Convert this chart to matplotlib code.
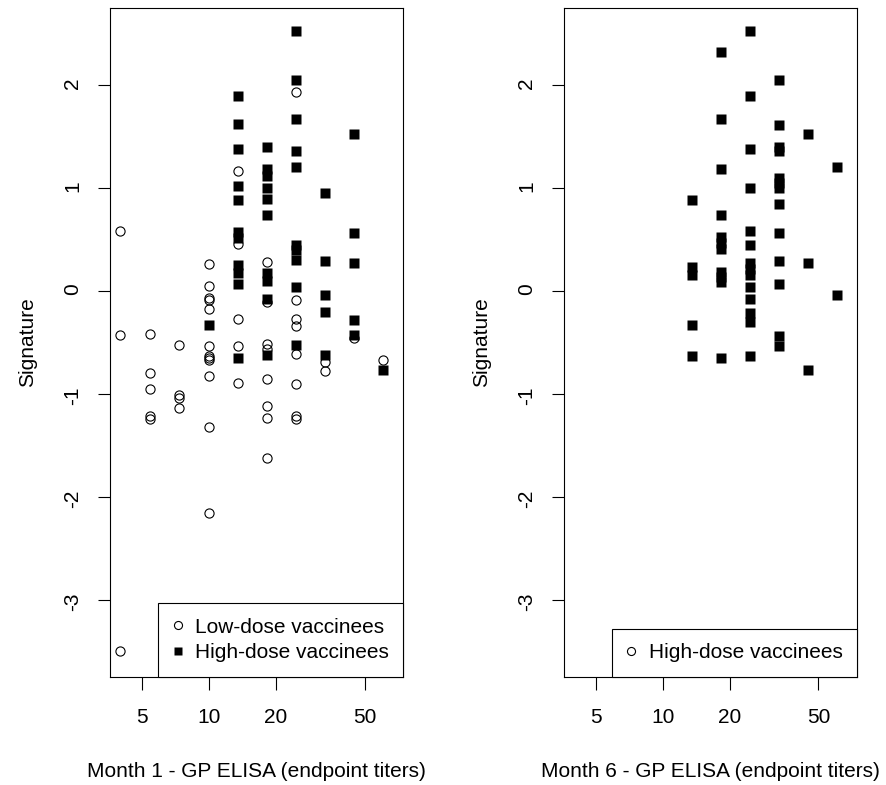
"""
Signature score vs GP ELISA endpoint titers, month 1 and month 6 panels.
"""

import matplotlib
matplotlib.use("Agg")
import matplotlib.pyplot as plt
from matplotlib.lines import Line2D
from matplotlib.ticker import FixedLocator, FixedFormatter, NullLocator

plt.rcParams["font.family"] = ["Liberation Sans", "DejaVu Sans"]

# titer levels (endpoint titers, log spaced)
titers = [4.0, 5.45, 7.35, 10.0, 13.5, 18.2, 24.7, 33.2, 44.7, 60.5]

# month 1 - low-dose vaccinees (open circles)
m1_low_x = ([4.0] * 3 + [5.45] * 5 + [7.35] * 4 + [10.0] * 12 + [13.5] * 5
            + [18.2] * 8 + [24.7] * 8 + [33.2] * 2 + [44.7] + [60.5])
m1_low_y = [0.58, -0.43, -3.50,
            -0.42, -0.80, -0.95, -1.21, -1.24,
            -0.52, -1.01, -1.04, -1.14,
            0.26, 0.05, -0.07, -0.09, -0.17, -0.53, -0.63, -0.65, -0.67, -0.83, -1.32, -2.16,
            1.17, 0.46, -0.27, -0.53, -0.89,
            0.28, -0.11, -0.51, -0.56, -0.85, -1.12, -1.23, -1.62,
            1.93, -0.09, -0.27, -0.34, -0.61, -0.90, -1.21, -1.24,
            -0.69, -0.78,
            -0.46,
            -0.67]

# month 1 - high-dose vaccinees (filled squares)
m1_high_x = ([10.0] + [13.5] * 11 + [18.2] * 10 + [24.7] * 10 + [33.2] * 5
             + [44.7] * 5 + [60.5])
m1_high_y = [-0.33,
             1.89, 1.62, 1.38, 1.02, 0.88, 0.57, 0.51, 0.25, 0.17, 0.07, -0.65,
             1.40, 1.18, 1.12, 1.00, 0.89, 0.74, 0.17, 0.10, -0.08, -0.62,
             2.52, 2.05, 1.67, 1.36, 1.20, 0.45, 0.40, 0.30, 0.04, -0.52,
             0.95, 0.29, -0.04, -0.20, -0.62,
             1.52, 0.56, 0.27, -0.28, -0.43,
             -0.77]

# month 6 - high-dose vaccinees (filled squares)
m6_high_x = ([13.5] * 5 + [18.2] * 11 + [24.7] * 14 + [33.2] * 13
             + [44.7] * 3 + [60.5] * 2)
m6_high_y = [0.88, 0.23, 0.16, -0.33, -0.63,
             2.32, 1.67, 1.18, 0.74, 0.52, 0.47, 0.41, 0.18, 0.14, 0.09, -0.65,
             2.52, 1.89, 1.38, 1.00, 0.58, 0.45, 0.27, 0.21, 0.16, 0.04, -0.08, -0.21, -0.30, -0.63,
             2.05, 1.61, 1.40, 1.36, 1.10, 1.05, 1.00, 0.84, 0.56, 0.29, 0.07, -0.44, -0.53,
             1.52, 0.27, -0.77,
             1.20, -0.04]

x_ticks = [5, 10, 20, 50]
y_ticks = [-3, -2, -1, 0, 1, 2]
x_labels = ["Month 1 - GP ELISA (endpoint titers)", "Month 6 - GP ELISA (endpoint titers)"]

FS = 15
MS_CIRC = 6.6
MS_SQ = 6.9


def style_axes(ax, xlabel):
    ax.set_xscale("log")
    ax.set_xlim(3.59, 74.6)
    ax.set_ylim(-3.748, 2.748)
    ax.xaxis.set_major_locator(FixedLocator(x_ticks))
    ax.xaxis.set_major_formatter(FixedFormatter([str(t) for t in x_ticks]))
    ax.xaxis.set_minor_locator(NullLocator())
    ax.set_yticks(y_ticks)
    ax.set_yticklabels([str(t) for t in y_ticks])
    ax.tick_params(axis="both", length=9, width=0.8, labelsize=FS, direction="out")
    ax.tick_params(axis="x", pad=13)
    ax.tick_params(axis="y", pad=11, labelrotation=90)
    for s in ax.spines.values():
        s.set_linewidth(0.8)
        s.set_color("black")
    ax.set_xlabel(xlabel, fontsize=FS)
    ax.set_ylabel("Signature", fontsize=FS)
    ax.xaxis.set_label_coords(0.5, -0.127)
    ax.yaxis.set_label_coords(-0.2475, 0.5)


def add_legend(ax, handles, labels):
    leg = ax.legend(handles, labels, loc="lower right", fontsize=FS,
                    borderaxespad=0, borderpad=0.7, handlelength=0.45,
                    handletextpad=0.6, labelspacing=0.33, fancybox=False,
                    framealpha=1, edgecolor="black")
    leg.get_frame().set_linewidth(0.8)


def main():
    fig = plt.figure(figsize=(8.87, 7.85), dpi=100)
    ax1 = fig.add_axes([0.1240, 0.1376, 0.3307, 0.8522])
    ax2 = fig.add_axes([0.6359, 0.1376, 0.3303, 0.8522])

    # left panel: both dose groups
    ax1.plot(m1_low_x, m1_low_y, "o", ms=MS_CIRC, mfc="none", mec="black", mew=0.8)
    ax1.plot(m1_high_x, m1_high_y, "s", ms=MS_SQ, mfc="black", mec="none")
    style_axes(ax1, x_labels[0])
    circ = Line2D([], [], marker="o", ls="none", ms=5.8, mfc="none", mec="black", mew=0.8)
    sq = Line2D([], [], marker="s", ls="none", ms=6.0, mfc="black", mec="none")
    add_legend(ax1, [circ, sq], ["Low-dose vaccinees", "High-dose vaccinees"])

    # right panel: high dose only (legend keeps the open circle symbol)
    ax2.plot(m6_high_x, m6_high_y, "s", ms=MS_SQ, mfc="black", mec="none")
    style_axes(ax2, x_labels[1])
    add_legend(ax2, [circ], ["High-dose vaccinees"])

    fig.savefig("out.png", dpi=100)


if __name__ == "__main__":
    main()
